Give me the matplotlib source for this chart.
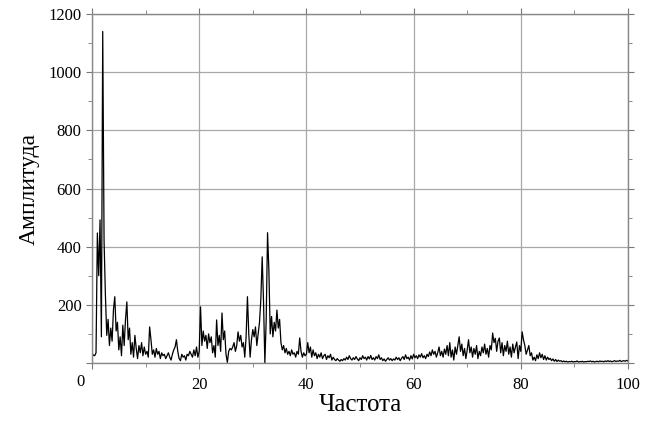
import numpy as np
import matplotlib.pyplot as plt
from matplotlib.ticker import MultipleLocator

# Spectrum amplitude, one value every 0.25 (rows of 5 units)
freq_step = 0.25
amplitude = [
    22, 28, 25, 35, 447, 300, 492, 90, 1140, 420, 234, 95, 150, 60, 120, 75, 183, 228, 110, 140,   # 0-5
    45, 90, 25, 130, 60, 150, 210, 80, 120, 30, 70, 20, 95, 50, 15, 60, 35, 70, 25, 55,            # 5-10
    30, 40, 20, 124, 80, 30, 45, 20, 50, 30, 40, 15, 35, 25, 30, 15, 25, 35, 20, 10,               # 10-15
    30, 45, 55, 80, 40, 15, 8, 30, 20, 25, 10, 30, 25, 40, 30, 20, 45, 25, 55, 20,                 # 15-20
    40, 193, 60, 110, 75, 95, 50, 100, 70, 90, 35, 60, 20, 148, 60, 95, 40, 172, 80, 110,          # 20-25
    30, 2, 40, 50, 45, 55, 70, 40, 60, 107, 75, 95, 55, 70, 20, 90, 228, 100, 20, 80,              # 25-30
    115, 90, 124, 60, 100, 140, 220, 365, 210, 0, 150, 448, 320, 100, 160, 90, 140, 110, 182, 120, # 30-35
    150, 70, 45, 60, 35, 50, 30, 40, 25, 45, 30, 35, 20, 40, 30, 86, 40, 20, 35, 25,               # 35-40
    30, 70, 35, 55, 20, 45, 25, 35, 15, 30, 20, 35, 15, 25, 30, 12, 25, 18, 30, 10,                # 40-45
    20, 12, 8, 15, 10, 6, 12, 8, 15, 10, 20, 12, 25, 15, 10, 18, 12, 22, 14, 8,                    # 45-50
    18, 12, 25, 15, 20, 10, 22, 14, 26, 12, 18, 10, 22, 15, 28, 12, 18, 8, 14, 6,                  # 50-55
    12, 18, 10, 15, 8, 14, 10, 20, 12, 18, 8, 16, 22, 12, 28, 15, 20, 10, 25, 14,                  # 55-60
    30, 18, 25, 15, 28, 20, 32, 18, 25, 15, 30, 22, 38, 25, 45, 30, 40, 20, 35, 55,                # 60-65
    25, 40, 20, 48, 30, 60, 25, 70, 20, 45, 10, 55, 30, 60, 90, 40, 65, 25, 50, 15,                # 65-70
    45, 80, 35, 55, 20, 50, 30, 60, 15, 40, 25, 55, 35, 65, 30, 50, 20, 60, 45, 103,               # 70-75
    70, 85, 40, 75, 86, 35, 70, 25, 60, 40, 75, 30, 55, 20, 65, 35, 55, 72, 15, 60,                # 75-80
    40, 107, 80, 60, 30, 45, 60, 25, 35, 10, 20, 8, 28, 15, 35, 18, 30, 12, 25, 10,                # 80-85
    20, 12, 16, 8, 14, 6, 12, 5, 10, 6, 8, 4, 7, 4, 6, 3, 5, 4, 6, 3,                              # 85-90
    5, 4, 7, 3, 5, 4, 6, 3, 5, 4, 6, 5, 7, 4, 6, 3, 5, 6, 4, 7,                                    # 90-95
    5, 6, 4, 7, 5, 8, 5, 7, 4, 6, 8, 5, 7, 6, 9, 5, 7, 8, 6, 9,                                    # 95-100
    7,
]
freq = np.arange(len(amplitude)) * freq_step

x_ticks = [0, 20, 40, 60, 80, 100]
y_ticks = [200, 400, 600, 800, 1000, 1200]

plt.rcParams['font.family'] = ['Liberation Serif', 'DejaVu Serif']

fig = plt.figure(figsize=(6.53, 4.21), dpi=100)
ax = fig.add_axes([0.1409, 0.1378, 0.8208, 0.8289])

ax.plot(freq, amplitude, color='black', lw=0.9)

ax.set_xlim(0, 100)
ax.set_ylim(0, 1200)
ax.set_xticks(x_ticks)
ax.set_xticklabels([''] + [str(t) for t in x_ticks[1:]])
ax.set_yticks([0] + y_ticks)
ax.set_yticklabels([''] + [str(t) for t in y_ticks])
ax.xaxis.set_minor_locator(MultipleLocator(10))
ax.yaxis.set_minor_locator(MultipleLocator(100))

ax.grid(True, which='major', color='#a8a8a8', lw=0.9)
for s in ax.spines.values():
    s.set_color('#888888')
    s.set_linewidth(1.0)

ax.tick_params(which='both', colors='#777777', labelcolor='black', labelsize=12)
ax.tick_params(which='major', length=4)
ax.tick_params(which='minor', length=3)
ax.tick_params(axis='y', which='both', direction='out', right=True)
ax.tick_params(axis='x', which='both', direction='out', top=True)
ax.tick_params(axis='x', pad=6)

# origin label sits at the corner
ax.text(-0.022, -0.032, '0', transform=ax.transAxes, ha='center', va='top', fontsize=12)

ax.set_xlabel('Частота', fontsize=18, labelpad=1)
ax.set_ylabel('Амплитуда', fontsize=17, labelpad=6)

fig.savefig('out.png', dpi=100)
